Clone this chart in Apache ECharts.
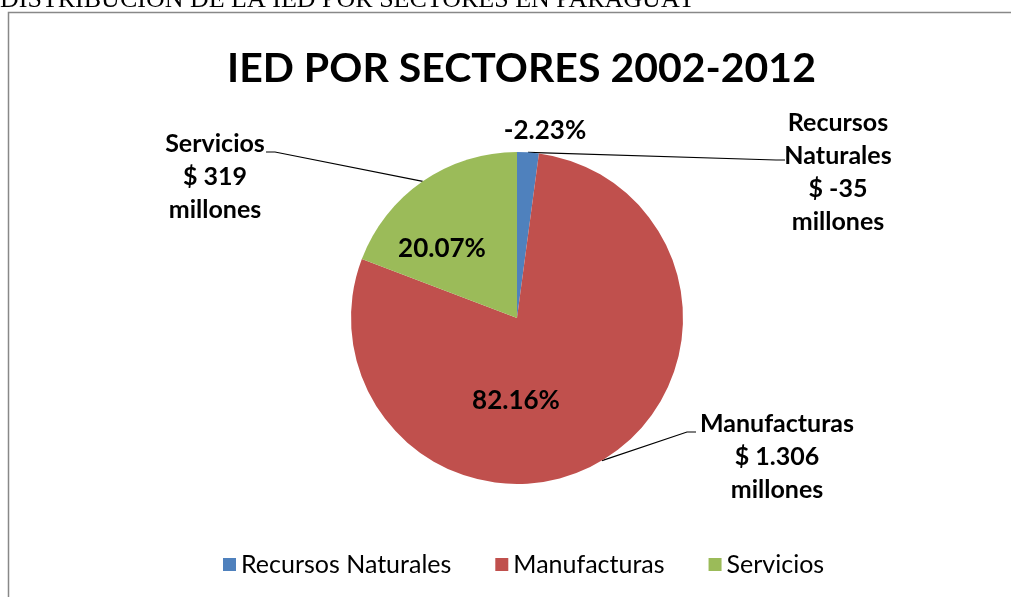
<!DOCTYPE html>
<html>
<head>
<meta charset="utf-8">
<script src="https://cdn.jsdelivr.net/npm/echarts@6/dist/echarts.min.js"></script>
<style>
html, body { margin: 0; padding: 0; background: #fff; }
#chart { width: 1011px; height: 597px; }
</style>
</head>
<body>
<div id="chart"></div>
<script>
// datos: IED por sectores 2002-2012 (millones de US$)
var sectores = ['Recursos Naturales', 'Manufacturas', 'Servicios'];
var montos = [-35, 1306, 319];
var montosTexto = ['-35', '1.306', '319'];
var porcentajes = ['-2.23%', '82.16%', '20.07%'];
var colores = ['#4F81BD', '#C0504D', '#9BBB59'];

var chart = echarts.init(document.getElementById('chart'));

var fuente = 'Lato, "Open Sans", sans-serif';

// posiciones de las etiquetas (como en el grafico de Excel)
var posPct = [[545, 131], [516, 401], [442, 249]];
var posEtiq = [[838, 172], [777, 457], [215, 177]];
var finLinea = [[785, 160], [696, 432], [266, 152]];

var datosPie = sectores.map(function (s, i) {
    return { name: s, value: Math.abs(montos[i]), itemStyle: { color: colores[i] } };
});

var option = {
    animation: false,
    graphic: [
        {
            type: 'text',
            left: 0,
            top: -13,
            style: {
                text: 'DISTRIBUCIÓN DE LA IED POR SECTORES EN PARAGUAY',
                font: '26px "Liberation Serif", "Times New Roman", serif',
                fill: '#000'
            }
        },
        {
            type: 'rect',
            shape: { x: 8.5, y: 12.5, width: 1010, height: 600 },
            style: { fill: 'none', stroke: '#888', lineWidth: 1.5 },
            z: -1
        }
    ],
    title: {
        text: 'IED POR SECTORES 2002-2012',
        left: 222,
        top: 43,
        textStyle: { fontFamily: fuente, fontWeight: 'bold', fontSize: 41, color: '#000' }
    },
    legend: {
        bottom: 15,
        left: 218,
        icon: 'rect',
        itemWidth: 13,
        itemHeight: 13,
        itemGap: 44,
        textStyle: { fontFamily: fuente, fontSize: 25, color: '#000' },
        data: sectores
    },
    series: [
        {
            name: 'porcentaje',
            type: 'pie',
            center: [517, 318],
            radius: 166,
            startAngle: 90,
            data: datosPie,
            itemStyle: { borderWidth: 0 },
            label: {
                show: true,
                position: 'inside',
                fontFamily: fuente,
                fontWeight: 'bold',
                fontSize: 26,
                color: '#000',
                formatter: function (p) { return porcentajes[p.dataIndex]; }
            },
            labelLine: { show: false },
            labelLayout: function (p) {
                var q = posPct[p.dataIndex];
                return { x: q[0], y: q[1], align: 'center', verticalAlign: 'middle' };
            },
            emphasis: { disabled: true }
        },
        {
            name: 'etiquetas',
            type: 'pie',
            center: [517, 318],
            radius: 166,
            startAngle: 90,
            silent: true,
            data: datosPie.map(function (d) {
                return { name: d.name, value: d.value, itemStyle: { color: 'rgba(0,0,0,0)' } };
            }),
            label: {
                show: true,
                position: 'outside',
                fontFamily: fuente,
                fontWeight: 'bold',
                fontSize: 25,
                lineHeight: 33,
                color: '#000',
                align: 'center',
                formatter: function (p) {
                    var i = p.dataIndex;
                    return sectores[i].replace(' ', '\n') + '\n$ ' + montosTexto[i] + '\nmillones';
                }
            },
            labelLine: { show: true, lineStyle: { color: '#000', width: 1.2 } },
            labelLayout: function (p) {
                var i = p.dataIndex;
                var q = posEtiq[i];
                var fin = finLinea[i];
                var ini = p.labelLinePoints ? p.labelLinePoints[0] : fin;
                var dir = fin[0] > ini[0] ? -9 : 9;
                return {
                    x: q[0], y: q[1], align: 'center', verticalAlign: 'middle',
                    labelLinePoints: [ini, [fin[0] + dir, fin[1]], fin]
                };
            }
        }
    ]
};

chart.setOption(option);
</script>
</body>
</html>
